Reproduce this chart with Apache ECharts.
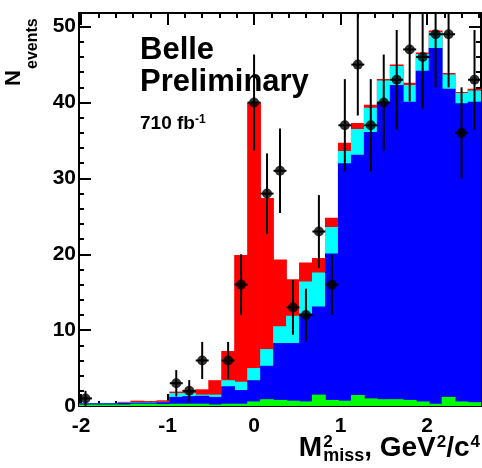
<!DOCTYPE html>
<html>
<head>
<meta charset="utf-8">
<script src="https://cdn.jsdelivr.net/npm/echarts@6/dist/echarts.min.js"></script>
<style>
  html, body { margin: 0; padding: 0; background: #fff; }
  #chart { width: 482px; height: 468px; }
</style>
</head>
<body>
<div id="chart"></div>
<script>
// Bin centres of the missing-mass-squared histogram (GeV^2/c^4), bin width 0.15
const binCenters = [-1.95, -1.8, -1.65, -1.5, -1.35, -1.2, -1.05, -0.9, -0.75, -0.6, -0.45, -0.3, -0.15,
  0, 0.15, 0.3, 0.45, 0.6, 0.75, 0.9, 1.05, 1.2, 1.35, 1.5, 1.65, 1.8, 1.95, 2.1, 2.25, 2.4, 2.55];
const binWidth = 0.15;

// Observed event counts
const dataCounts = [1, 0, 0, 0, 0, 0, 0, 3, 2, 6, 0, 6, 16,
  40, 28, 31, 13, 12, 23, 16, 37, 45, 37, 40, 43, 47, 46, 49, 49, 36, 43];

// Expected contributions, stacked bottom to top
const greenPart = [0.2, 0.2, 0.2, 0.2, 0.3, 0.3, 0.25, 0.3, 0.3, 0.3, 0.2, 0.3, 0.3,
  0.6, 0.9, 0.8, 0.7, 0.6, 1.5, 0.8, 0.7, 1.45, 1.0, 0.9, 0.9, 0.8, 0.6, 0.3, 1.2, 0.6, 0.5];
const bluePart = [0.15, 0.15, 0.15, 0.2, 0.15, 0.15, 0.25, 0.9, 1.0, 1.05, 1.0, 2.3, 1.8,
  2.8, 4.4, 7.5, 7.6, 11.6, 11.6, 19.3, 31.3, 31.65, 35.1, 39.1, 41.4, 39.3, 43.6, 46.9, 40.6, 39.3, 39.6];
const cyanPart = [0, 0, 0.03, 0.05, 0.05, 0.05, 0.05, 0.5, 0.4, 0.15, 0.3, 0.8, 1.1,
  1.6, 2.2, 2.2, 3.6, 4.2, 4.5, 3.5, 1.6, 3.4, 3.2, 2.9, 2.5, 2.2, 2.2, 2.05, 1.9, 1.35, 1.5];
const redPart = [0, 0, 0.02, 0.1, 0.2, 0.15, 0.2, 0.2, 0.4, 0.7, 1.9, 3.85, 16.7,
  35.0, 19.9, 8.8, 4.8, 2.5, 1.9, 1.2, 1.1, 0.8, 0.4, 0.2, 0.2, 0.3, 0.2, 0.25, 0.2, 0.15, 0.2];

// Axis tick values
const xLabelValues = [-2, -1, 0, 1, 2];
const xMinorValues = [-2, -1.8, -1.6, -1.4, -1.2, -1, -0.8, -0.6, -0.4, -0.2, 0, 0.2, 0.4, 0.6, 0.8,
  1, 1.2, 1.4, 1.6, 1.8, 2, 2.2, 2.4, 2.6];
const yLabelValues = [0, 10, 20, 30, 40, 50];

const layers = [
  { name: 'red', color: '#ff0000' },
  { name: 'cyan', color: '#00ffff' },
  { name: 'blue', color: '#0000ff' },
  { name: 'green', color: '#00ff00' }
];

// cumulative top of each layer (green at the bottom)
const order = [greenPart, bluePart, cyanPart, redPart];
function cumulativeTop(layerIdx) {
  return binCenters.map((c, i) => {
    let s = 0;
    for (let k = 0; k <= layerIdx; k++) s += order[k][i];
    return +s.toFixed(3);
  });
}
const topOf = {
  green: cumulativeTop(0),
  blue: cumulativeTop(1),
  cyan: cumulativeTop(2),
  red: cumulativeTop(3)
};

const FONT = 'Liberation Sans';
const half = binWidth / 2;

function histSeries(layer) {
  const tops = topOf[layer.name];
  return {
    type: 'custom',
    name: layer.name,
    xAxisIndex: 0,
    yAxisIndex: 0,
    clip: true,
    silent: true,
    data: binCenters.map((c, i) => [c, tops[i]]),
    renderItem: function (params, api) {
      const c = api.value(0);
      const top = api.value(1);
      const p0 = api.coord([c - half, top]);
      const p1 = api.coord([c + half, 0]);
      return {
        type: 'rect',
        shape: { x: p0[0] - 0.4, y: p0[1], width: p1[0] - p0[0] + 0.8, height: p1[1] - p0[1] },
        style: { fill: layer.color, stroke: null }
      };
    },
    z: 2
  };
}

const pointData = [];
binCenters.forEach((c, i) => { if (dataCounts[i] > 0) pointData.push([c, dataCounts[i]]); });

// Poisson error bars (sqrt N) and bin-width horizontal bars
const errorSeries = {
  type: 'custom',
  name: 'errors',
  xAxisIndex: 0,
  yAxisIndex: 0,
  clip: true,
  silent: true,
  data: pointData,
  renderItem: function (params, api) {
    const c = api.value(0);
    const n = api.value(1);
    const err = Math.sqrt(n);
    const pLo = api.coord([c, Math.max(0, n - err)]);
    const pHi = api.coord([c, n + err]);
    const pL = api.coord([c - half, n]);
    const pR = api.coord([c + half, n]);
    const style = { stroke: '#000', lineWidth: 2 };
    return {
      type: 'group',
      children: [
        { type: 'line', shape: { x1: pLo[0], y1: pLo[1], x2: pHi[0], y2: pHi[1] }, style: style },
        { type: 'line', shape: { x1: pL[0], y1: pL[1], x2: pR[0], y2: pR[1] }, style: style }
      ]
    };
  },
  z: 5
};

const pointSeries = {
  type: 'scatter',
  name: 'data',
  xAxisIndex: 0,
  yAxisIndex: 0,
  symbol: 'circle',
  symbolSize: 10,
  itemStyle: { color: '#000' },
  silent: true,
  data: pointData,
  z: 6
};

const X_MIN = -2.025, X_MAX = 2.625, Y_MIN = 0, Y_MAX = 51.8;
const frameLine = { show: true, onZero: false, lineStyle: { color: '#000', width: 2 } };
const noLine = { show: false, onZero: false };

function xAx(position, tickValues, len, showLine, showLabel) {
  return {
    type: 'value', position: position, min: X_MIN, max: X_MAX,
    axisLine: showLine ? frameLine : noLine,
    splitLine: { show: false },
    axisTick: { show: true, inside: true, length: len, customValues: tickValues,
      lineStyle: { color: '#000', width: 2 } },
    axisLabel: showLabel ? {
      show: true, customValues: xLabelValues, margin: 10,
      fontFamily: FONT, fontWeight: 'bold', fontSize: 21, color: '#000'
    } : { show: false }
  };
}
function yAx(position, interval, len, showLine, showLabel) {
  return {
    type: 'value', position: position, min: Y_MIN, max: Y_MAX, interval: interval,
    axisLine: showLine ? frameLine : noLine,
    splitLine: { show: false },
    axisTick: { show: true, inside: true, length: len, lineStyle: { color: '#000', width: 2 } },
    axisLabel: showLabel ? {
      show: true, margin: 3,
      fontFamily: FONT, fontWeight: 'bold', fontSize: 21, color: '#000',
      formatter: v => (yLabelValues.indexOf(v) >= 0 ? String(v) : '')
    } : { show: false }
  };
}

// text width helper for laying out super/subscripts
const measureCtx = document.createElement('canvas').getContext('2d');
function textWidth(str, size) {
  measureCtx.font = 'bold ' + size + 'px "Liberation Sans"';
  return measureCtx.measureText(str).width;
}
function txt(x, y, str, size) {
  return { type: 'text', x: x, y: y,
    style: { text: str, font: 'bold ' + size + 'px "Liberation Sans"', fill: '#000', verticalAlign: 'bottom' } };
}

// x-axis title: M^2_miss, GeV^2/c^4
const T_BIG = 28, T_SUP = 17, T_SUB = 18;
const SUP_DY = -11, SUB_DY = 3;
const xTitleParts = [];
(function () {
  let x = 0;
  xTitleParts.push(txt(x, 0, 'M', T_BIG));
  x += textWidth('M', T_BIG) + 1;
  xTitleParts.push(txt(x, SUP_DY, '2', T_SUP));
  xTitleParts.push(txt(x, SUB_DY, 'miss', T_SUB));
  x += Math.max(textWidth('2', T_SUP), textWidth('miss', T_SUB));
  xTitleParts.push(txt(x, 0, ', GeV', T_BIG));
  x += textWidth(', GeV', T_BIG) + 1;
  xTitleParts.push(txt(x, SUP_DY, '2', T_SUP));
  x += textWidth('2', T_SUP);
  xTitleParts.push(txt(x, 0, '/c', T_BIG));
  x += textWidth('/c', T_BIG) + 1;
  xTitleParts.push(txt(x, SUP_DY, '4', T_SUP));
  x += textWidth('4', T_SUP);
  xTitleParts.totalWidth = x;
})();
const xTitleRight = 480;

const chart = echarts.init(document.getElementById('chart'), null, { renderer: 'canvas' });
chart.setOption({
  animation: false,
  backgroundColor: '#fff',
  grid: { left: 79, right: 1, top: 13, bottom: 62, containLabel: false },
  xAxis: [
    xAx('bottom', xMinorValues, 5, true, true),
    xAx('bottom', xLabelValues, 12, false, false),
    xAx('top', xMinorValues, 5, true, false),
    xAx('top', xLabelValues, 12, false, false)
  ],
  yAxis: [
    yAx('left', 2, 5, true, true),
    yAx('left', 10, 12, false, false),
    yAx('right', 2, 5, true, false),
    yAx('right', 10, 12, false, false)
  ],
  series: layers.map(histSeries).concat([errorSeries, pointSeries]),
  graphic: [
    { type: 'text', left: 140, top: 35, style: { text: 'Belle', font: 'bold 31px "Liberation Sans"', fill: '#000' }, z: 10 },
    { type: 'text', left: 140, top: 67, style: { text: 'Preliminary', font: 'bold 31px "Liberation Sans"', fill: '#000' }, z: 10 },
    { type: 'text', left: 140, top: 114, style: {
        text: '{a|710 fb}{s|-1}',
        rich: {
          a: { fontFamily: FONT, fontWeight: 'bold', fontSize: 19, fill: '#000' },
          s: { fontFamily: FONT, fontWeight: 'bold', fontSize: 12, fill: '#000', verticalAlign: 'top', padding: [0, 0, 8, 0] }
        }
      }, z: 10 },
    { type: 'group', x: xTitleRight - xTitleParts.totalWidth, y: 462, z: 10, children: xTitleParts.slice() },
    // y-axis title: N_events (rotated)
    { type: 'group', x: 25, y: 86, rotation: Math.PI / 2, z: 10, children: [
      txt(0, 0, 'N', 22),
      txt(17, 16, 'events', 16)
    ] }
  ]
});
</script>
</body>
</html>
